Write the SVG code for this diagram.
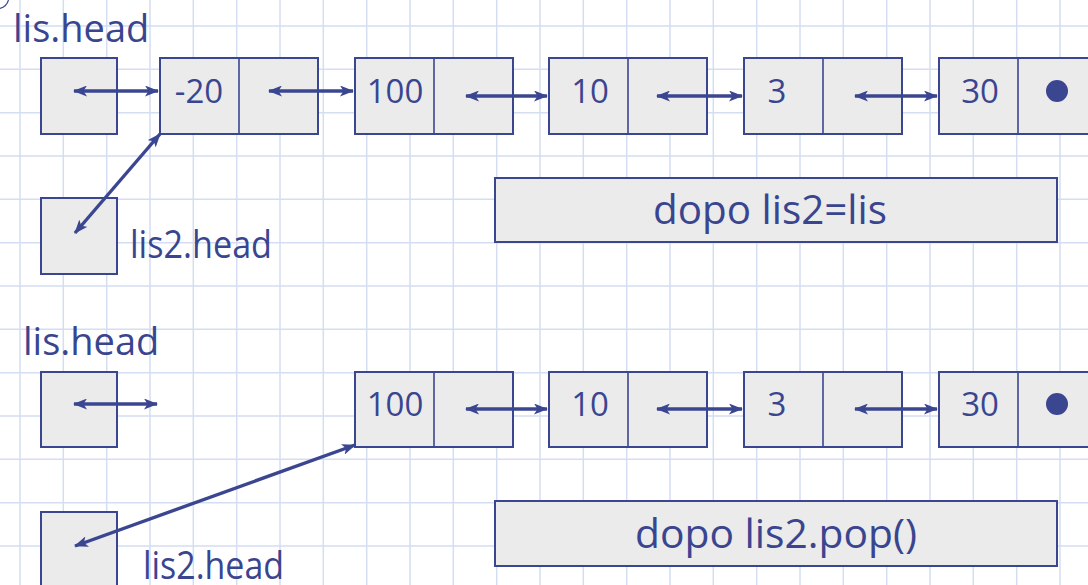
<svg xmlns="http://www.w3.org/2000/svg" width="1088" height="585" viewBox="0 0 1088 585">
  <style>
    .grid { stroke: #d4ddf1; stroke-width: 1.5; fill: none; }
    .box { fill: #ebebeb; stroke: #3b4691; stroke-width: 2; }
    .div { stroke: #3b4691; stroke-width: 1.6; }
    .lbl { font-family: "Open Sans", "DejaVu Sans", sans-serif; fill: #3a4590; }
    .num { font-size: 33px; text-anchor: middle; }
    .name { font-size: 38px; }
    .note { font-size: 40.5px; }
    .link { stroke: #3b4691; stroke-width: 3.4; fill: none; marker-start: url(#head); marker-end: url(#head); }
  </style>
  <defs>
    <marker id="head" viewBox="0 0 14 11" refX="13" refY="5.5" markerWidth="14" markerHeight="11" markerUnits="userSpaceOnUse" orient="auto-start-reverse">
      <path d="M0,0 L14,5.5 L0,11 L3.5,5.5 Z" fill="#3b4691"/>
    </marker>
  </defs>

  <rect width="1088" height="585" fill="#ffffff"/>

  <!-- squared paper -->
  <g id="grid" class="grid">
    <path d="M20,0V585M63.3,0V585M106.7,0V585M150,0V585M193.3,0V585M236.7,0V585M280,0V585M323.3,0V585M366.7,0V585M410,0V585M453.3,0V585M496.7,0V585M540,0V585M583.3,0V585M626.7,0V585M670,0V585M713.3,0V585M756.7,0V585M800,0V585M843.3,0V585M886.7,0V585M930,0V585M973.3,0V585M1016.7,0V585M1060,0V585"/>
    <path d="M0,26H1088M0,69.3H1088M0,112.7H1088M0,156H1088M0,199.3H1088M0,242.7H1088M0,286H1088M0,329.3H1088M0,372.7H1088M0,416H1088M0,459.3H1088M0,502.7H1088M0,546H1088"/>
  </g>
  <path d="M0,8.5 A12.5,12.5 0 0 0 8.5,0" fill="none" stroke="#3b4691" stroke-width="1.2"/>

  <!-- state after lis2 = lis -->
  <g id="top-lis-head">
    <text class="lbl name" x="13" y="42">lis.head</text>
    <rect class="box" x="41" y="58" width="76" height="76"/>
  </g>
  <g id="top-lis2-head">
    <rect class="box" x="41" y="198" width="76" height="76"/>
    <text class="lbl name" x="130" y="258" textLength="142" lengthAdjust="spacingAndGlyphs">lis2.head</text>
  </g>
  <g id="top-n-20">
    <rect class="box" x="160" y="58" width="158" height="76"/>
    <line class="div" x1="239" y1="58" x2="239" y2="134"/>
    <text class="lbl num" x="199" y="103">-20</text>
  </g>
  <g id="top-n100">
    <rect class="box" x="355" y="58" width="158" height="76"/>
    <line class="div" x1="434" y1="58" x2="434" y2="134"/>
    <text class="lbl num" x="395" y="103">100</text>
  </g>
  <g id="top-n10">
    <rect class="box" x="549" y="58" width="158" height="76"/>
    <line class="div" x1="628" y1="58" x2="628" y2="134"/>
    <text class="lbl num" x="590" y="103">10</text>
  </g>
  <g id="top-n3">
    <rect class="box" x="744" y="58" width="158" height="76"/>
    <line class="div" x1="823" y1="58" x2="823" y2="134"/>
    <text class="lbl num" x="777" y="103">3</text>
  </g>
  <g id="top-n30">
    <rect class="box" x="939" y="58" width="158" height="76"/>
    <line class="div" x1="1018" y1="58" x2="1018" y2="134"/>
    <text class="lbl num" x="980" y="103">30</text>
    <circle cx="1057" cy="91" r="11" fill="#3b4691"/>
  </g>
  <g id="note-assign">
    <rect class="box" x="495" y="178" width="562" height="64"/>
    <text class="lbl note" x="653" y="224" textLength="234" lengthAdjust="spacingAndGlyphs">dopo lis2=lis</text>
  </g>

  <!-- state after lis2.pop() -->
  <g id="bot-lis-head">
    <text class="lbl name" x="23" y="355">lis.head</text>
    <rect class="box" x="41" y="372" width="76" height="75"/>
  </g>
  <g id="bot-lis2-head">
    <rect class="box" x="41" y="512" width="76" height="80"/>
    <text class="lbl name" x="143" y="579" textLength="141" lengthAdjust="spacingAndGlyphs">lis2.head</text>
  </g>
  <g id="bot-n100">
    <rect class="box" x="355" y="372" width="158" height="75"/>
    <line class="div" x1="434" y1="372" x2="434" y2="447"/>
    <text class="lbl num" x="395" y="416">100</text>
  </g>
  <g id="bot-n10">
    <rect class="box" x="549" y="372" width="158" height="75"/>
    <line class="div" x1="628" y1="372" x2="628" y2="447"/>
    <text class="lbl num" x="590" y="416">10</text>
  </g>
  <g id="bot-n3">
    <rect class="box" x="744" y="372" width="158" height="75"/>
    <line class="div" x1="823" y1="372" x2="823" y2="447"/>
    <text class="lbl num" x="777" y="416">3</text>
  </g>
  <g id="bot-n30">
    <rect class="box" x="939" y="372" width="158" height="75"/>
    <line class="div" x1="1018" y1="372" x2="1018" y2="447"/>
    <text class="lbl num" x="980" y="416">30</text>
    <circle cx="1057" cy="404" r="11" fill="#3b4691"/>
  </g>
  <g id="note-pop">
    <rect class="box" x="495" y="501" width="562" height="65"/>
    <text class="lbl note" x="635" y="548" textLength="282" lengthAdjust="spacingAndGlyphs">dopo lis2.pop()</text>
  </g>

  <!-- references between cells -->
  <g id="connectors">
    <line class="link" x1="74" y1="91" x2="158" y2="91"/>
    <line class="link" x1="269" y1="91" x2="353" y2="91"/>
    <line class="link" x1="466" y1="96" x2="547" y2="96"/>
    <line class="link" x1="657" y1="96" x2="742" y2="96"/>
    <line class="link" x1="855" y1="96" x2="937" y2="96"/>
    <line class="link" x1="75" y1="233" x2="160" y2="134"/>

    <line class="link" x1="74" y1="404" x2="157" y2="404"/>
    <line class="link" x1="466" y1="409" x2="547" y2="409"/>
    <line class="link" x1="657" y1="409" x2="742" y2="409"/>
    <line class="link" x1="855" y1="409" x2="937" y2="409"/>
    <line class="link" x1="75" y1="546" x2="355" y2="445"/>
  </g>
</svg>
